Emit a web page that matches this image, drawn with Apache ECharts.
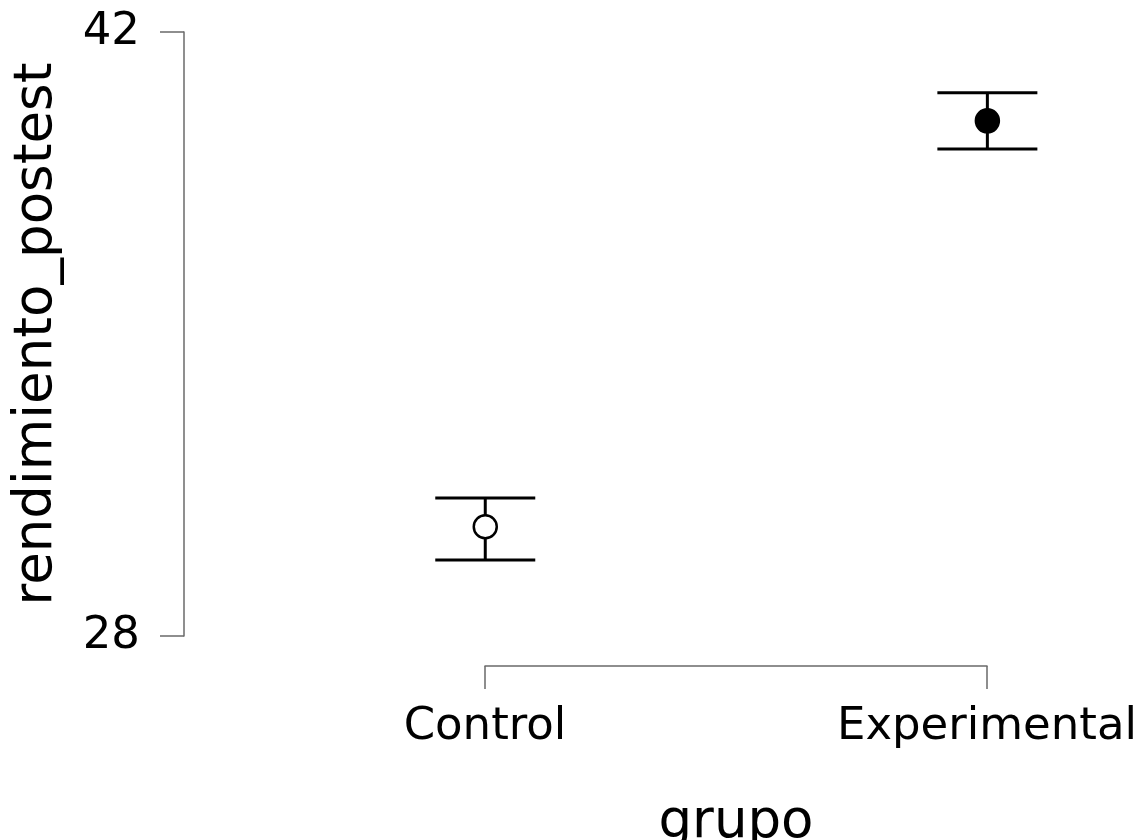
<!DOCTYPE html>
<html>
<head>
<meta charset="utf-8">
<script src="https://cdn.jsdelivr.net/npm/echarts@6/dist/echarts.min.js"></script>
<style>
html,body{margin:0;padding:0;background:#fff;}
#chart{width:1138px;height:840px;}
</style>
</head>
<body>
<div id="chart"></div>
<script>
const categories = ['Control', 'Experimental'];
const means = [30.53, 39.94];
const lowerCI = [29.76, 39.29];
const upperCI = [31.20, 40.59];
const fills = ['#ffffff', '#000000'];
const yMin = 28, yMax = 42;

const data = categories.map((c, i) => [i, means[i], lowerCI[i], upperCI[i]]);

const chart = echarts.init(document.getElementById('chart'), null, {renderer: 'canvas'});
const FONT = 'DejaVu Sans';
const AX = {color: '#6a6a6a', width: 1.5};
chart.setOption({
  backgroundColor: '#ffffff',
  animation: false,
  grid: [
    {left: 184, right: 0, top: 32, bottom: 204, containLabel: false, outerBoundsMode: 'none'},
    {left: 485, right: 151, top: 32, bottom: 174, containLabel: false, outerBoundsMode: 'none'}
  ],
  xAxis: [{
    gridIndex: 0, type: 'value', min: -0.6, max: 1.3,
    axisLine: {show: false, onZero: false}, axisTick: {show: false}, axisLabel: {show: false}, splitLine: {show: false}
  }, {
    gridIndex: 1, type: 'value', min: 0, max: categories.length - 1, interval: 1,
    name: 'grupo', nameLocation: 'middle', nameGap: 131,
    nameTextStyle: {fontFamily: FONT, fontSize: 53, color: '#000'},
    axisLine: {show: true, onZero: false, lineStyle: AX},
    axisTick: {show: true, length: 23, lineStyle: AX},
    axisLabel: {show: true, margin: 39, fontFamily: FONT, fontSize: 45, color: '#000',
      formatter: v => categories[v] || ''},
    splitLine: {show: false}
  }],
  yAxis: [{
    gridIndex: 0, type: 'value', min: yMin, max: yMax, interval: yMax - yMin,
    name: 'rendimiento_postest', nameLocation: 'middle', nameGap: 120, nameRotate: 90,
    nameTextStyle: {fontFamily: FONT, fontSize: 53, color: '#000'},
    axisLine: {show: true, onZero: false, lineStyle: AX},
    axisTick: {show: true, length: 24, lineStyle: AX},
    axisLabel: {show: true, margin: 44, fontFamily: FONT, fontSize: 45, color: '#000'},
    splitLine: {show: false}
  }, {
    gridIndex: 1, type: 'value', min: yMin, max: yMax, show: false
  }],
  series: [{
    type: 'custom',
    xAxisIndex: 0, yAxisIndex: 0,
    clip: false,
    data: data,
    renderItem: function (params, api) {
      const x = api.value(0);
      const m = api.coord([x, api.value(1)]);
      const lo = api.coord([x, api.value(2)]);
      const hi = api.coord([x, api.value(3)]);
      const hw = 50;
      const st = {stroke: '#000', lineWidth: 3};
      return {
        type: 'group',
        children: [
          {type: 'line', shape: {x1: m[0], y1: hi[1], x2: m[0], y2: lo[1]}, style: st},
          {type: 'line', shape: {x1: m[0] - hw, y1: hi[1], x2: m[0] + hw, y2: hi[1]}, style: st},
          {type: 'line', shape: {x1: m[0] - hw, y1: lo[1], x2: m[0] + hw, y2: lo[1]}, style: st},
          {type: 'circle', shape: {cx: m[0], cy: m[1], r: 11.5},
            style: {fill: fills[params.dataIndex], stroke: '#000', lineWidth: 2.5}}
        ]
      };
    }
  }]
});
</script>
</body>
</html>
